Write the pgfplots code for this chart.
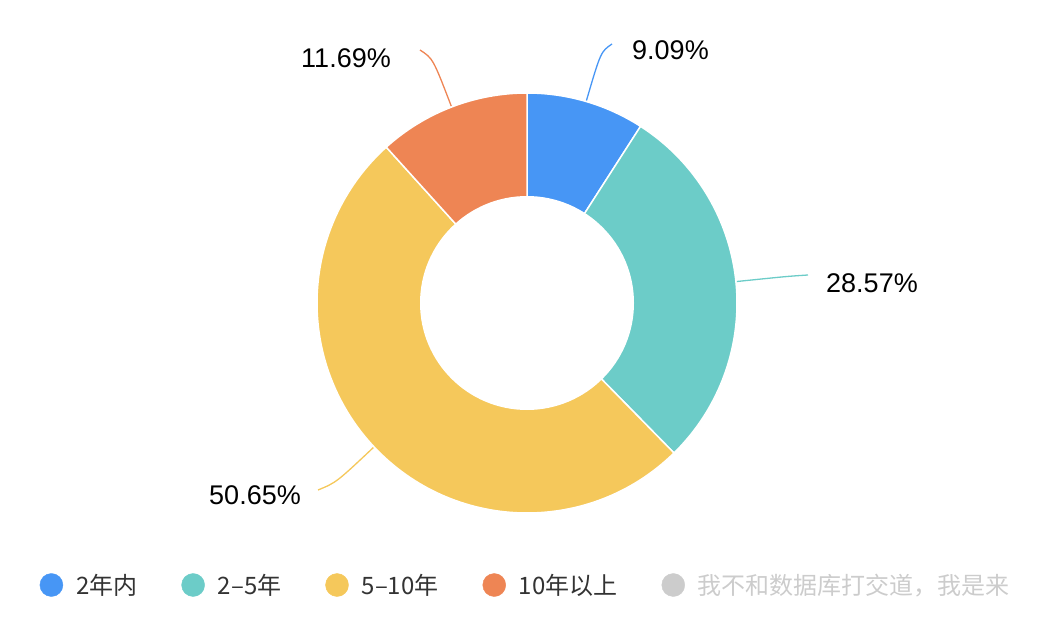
\documentclass[border=0pt]{standalone}
\usepackage{fontspec}
\setmainfont{Liberation Sans}
\newfontfamily\cjk{Noto Sans CJK SC}
\usepackage{pgfplots}
\usepackage{pgfplotstable}
\pgfplotsset{compat=1.18}
\usetikzlibrary{calc}

\definecolor{c1}{HTML}{4796F5}
\definecolor{c2}{HTML}{6CCCC8}
\definecolor{c3}{HTML}{F5C85B}
\definecolor{c4}{HTML}{EE8554}
\definecolor{lgray}{HTML}{CCCCCC}
\definecolor{txt}{HTML}{333333}

\pgfplotsset{dot/.style={legend image code/.code={\fill[#1] (0pt,0pt) circle[radius=11.5pt];}}}

% share of each group, in percent
\pgfplotstableread{
value
9.09
28.57
50.65
11.69
}\piedata

\pgfplotstablegetelem{0}{value}\of\piedata\let\vA\pgfplotsretval
\pgfplotstablegetelem{1}{value}\of\piedata\let\vB\pgfplotsretval
\pgfplotstablegetelem{2}{value}\of\piedata\let\vC\pgfplotsretval
\pgfplotstablegetelem{3}{value}\of\piedata\let\vD\pgfplotsretval
% clockwise from the top
\pgfmathsetmacro{\aA}{90}
\pgfmathsetmacro{\aB}{\aA-3.6*\vA}
\pgfmathsetmacro{\aC}{\aB-3.6*\vB}
\pgfmathsetmacro{\aD}{\aC-3.6*\vC}
\pgfmathsetmacro{\aE}{\aD-3.6*\vD}
\pgfmathsetmacro{\mA}{(\aA+\aB)/2}
\pgfmathsetmacro{\mB}{(\aB+\aC)/2}
\pgfmathsetmacro{\mC}{(\aC+\aD)/2}
\pgfmathsetmacro{\mD}{(\aD+\aE)/2}

\begin{document}
\begin{tikzpicture}
\begin{axis}[
    hide axis,
    scale only axis,
    at={(0,0)}, anchor=south west,
    width=1048pt, height=622pt,
    xmin=0, xmax=1048, ymin=0, ymax=622,
    clip=false,
    legend columns=5,
    legend style={
        at={(axis cs:39.5,37)}, anchor=west,
        draw=none, fill=none,
        inner xsep=0pt, inner ysep=0pt,
        font=\cjk\fontsize{24}{28}\selectfont,
        text=txt,
        /tikz/every odd column/.append style={column sep=11pt},
        /tikz/every even column/.append style={column sep=42pt},
    },
]
% slices
\fill[c1, draw=white, line width=1.5pt] (527,319) -- ($(527,319)+(\aA:210pt)$) arc[start angle=\aA, end angle=\aB, radius=210pt] -- cycle;
\fill[c2, draw=white, line width=1.5pt] (527,319) -- ($(527,319)+(\aB:210pt)$) arc[start angle=\aB, end angle=\aC, radius=210pt] -- cycle;
\fill[c3, draw=white, line width=1.5pt] (527,319) -- ($(527,319)+(\aC:210pt)$) arc[start angle=\aC, end angle=\aD, radius=210pt] -- cycle;
\fill[c4, draw=white, line width=1.5pt] (527,319) -- ($(527,319)+(\aD:210pt)$) arc[start angle=\aD, end angle=\aE, radius=210pt] -- cycle;
\fill[white] (527,319) circle[radius=107pt];

% label lines
\draw[c1, line width=1.3pt] ($(527,319)+(\mA:211pt)$) .. controls ($(527,319)+(\mA:262pt)$) .. (612,578);
\draw[c2, line width=1.3pt] ($(527,319)+(\mB:211pt)$) .. controls ($(527,319)+(\mB:262pt)$) .. (808,347);
\draw[c3, line width=1.3pt] ($(527,319)+(\mC:211pt)$) .. controls ($(527,319)+(\mC:262pt)$) .. (318,132);
\draw[c4, line width=1.3pt] ($(527,319)+(\mD:211pt)$) .. controls ($(527,319)+(\mD:262pt)$) .. (420,572);

\node[anchor=west, inner sep=0pt, font=\fontsize{27}{30}\selectfont] at (632,572) {\vA\%};
\node[anchor=west, inner sep=0pt, font=\fontsize{27}{30}\selectfont] at (826,339) {\vB\%};
\node[anchor=east, inner sep=0pt, font=\fontsize{27}{30}\selectfont] at (301,127) {\vC\%};
\node[anchor=east, inner sep=0pt, font=\fontsize{27}{30}\selectfont] at (391,564) {\vD\%};

\addlegendimage{dot=c1}
\addlegendentry{2年内}
\addlegendimage{dot=c2}
\addlegendentry{2–5年}
\addlegendimage{dot=c3}
\addlegendentry{5–10年}
\addlegendimage{dot=c4}
\addlegendentry{10年以上}
\addlegendimage{dot=lgray}
\addlegendentry{\textcolor{lgray}{我不和数据库打交道，我是来}}
\end{axis}
\pgfresetboundingbox
\path (0,0) rectangle (1048pt,622pt);
\end{tikzpicture}
\end{document}
